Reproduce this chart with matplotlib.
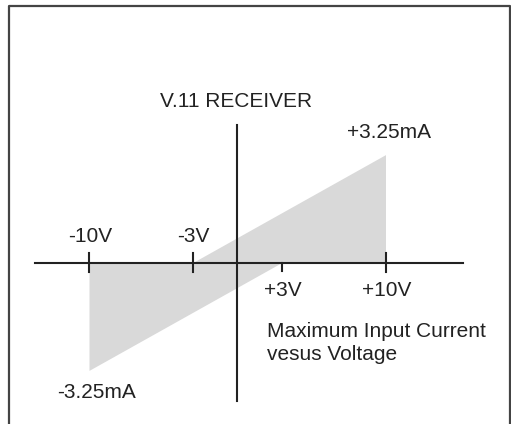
import numpy as np
import matplotlib
matplotlib.use("Agg")
from matplotlib import pyplot as plt
from matplotlib.lines import Line2D

# chart data
tick_volts = [-10, -3, 3, 10]
tick_labels = ["-10V", "-3V", "+3V", "+10V"]
i_max = 3.25  # mA
upper_v = [-3, 10]
upper_i = [0, 3.25]
lower_v = [-10, 3]
lower_i = [-3.25, 0]
title = "V.11 RECEIVER"
note_lines = ["Maximum Input Current", "vesus Voltage"]

W, H, DPI = 511, 424, 100
INK = "#222222"
FILL = "#d9d9d9"
plt.rcParams["font.family"] = ["Liberation Sans", "DejaVu Sans"]
FS = 15

# pixel layout of the drawing
sx, sy = 14.825, 33.2        # px per volt, px per mA
x0_px, y0_px = 237.25, 262.5  # origin in pixels (from top-left)

fig = plt.figure(figsize=(W / DPI, H / DPI), dpi=DPI)
ax = fig.add_axes([0, 0, 1, 1])
ax.set_xlim(-x0_px / sx, (W - x0_px) / sx)
ax.set_ylim(-(H - y0_px) / sy, y0_px / sy)
ax.axis("off")

# shaded region
ax.fill_between(upper_v, [0, 0], upper_i, color=FILL, lw=0, zorder=1)
ax.fill_between(lower_v, lower_i, [0, 0], color=FILL, lw=0, zorder=1)

# axes lines
lw = 1.5
ax.plot([(35 - x0_px) / sx, (463 - x0_px) / sx], [0, 0], color=INK, lw=lw, zorder=2)
ax.plot([0, 0], [(y0_px - 401) / sy, (y0_px - 125) / sy], color=INK, lw=lw, zorder=2)

# tick marks and labels
for v, lab in zip(tick_volts, tick_labels):
    if v == 3:
        ax.plot([v, v], [0, -0.27], color=INK, lw=lw, zorder=3)
    else:
        ax.plot([v, v], [-0.3, 0.3], color=INK, lw=lw, zorder=3)
    dy = 21 if v < 0 else -33.5
    ax.annotate(lab, (v, 0), xytext=(1, dy), textcoords="offset pixels",
                ha="center", va="baseline", fontsize=FS, color=INK)

# current labels
ax.annotate("+%.2fmA" % i_max, (upper_v[-1], upper_i[-1]), xytext=(3, 16.5),
            textcoords="offset pixels", ha="center", va="baseline",
            fontsize=FS, color=INK)
ax.annotate("-%.2fmA" % i_max, (lower_v[0], lower_i[0]), xytext=(7.5, -27.5),
            textcoords="offset pixels", ha="center", va="baseline",
            fontsize=FS, color=INK)

# title above the vertical axis
ax.annotate(title, (0, (y0_px - 125) / sy), xytext=(-1, 18),
            textcoords="offset pixels", ha="center", va="baseline",
            fontsize=FS, color=INK)

# note
for k, line in enumerate(note_lines):
    fig.text(267 / W, 1 - (337 + 23 * k) / H, line, ha="left", va="baseline",
             fontsize=FS, color=INK)

# frame (open at the bottom)
bx = [9 / W, 9 / W, 510 / W, 510 / W]
by = [-0.05, 1 - 6 / H, 1 - 6 / H, -0.05]
fig.add_artist(Line2D(bx, by, transform=fig.transFigure, color="#444444", lw=1.6))

fig.savefig("out.png", dpi=DPI)
